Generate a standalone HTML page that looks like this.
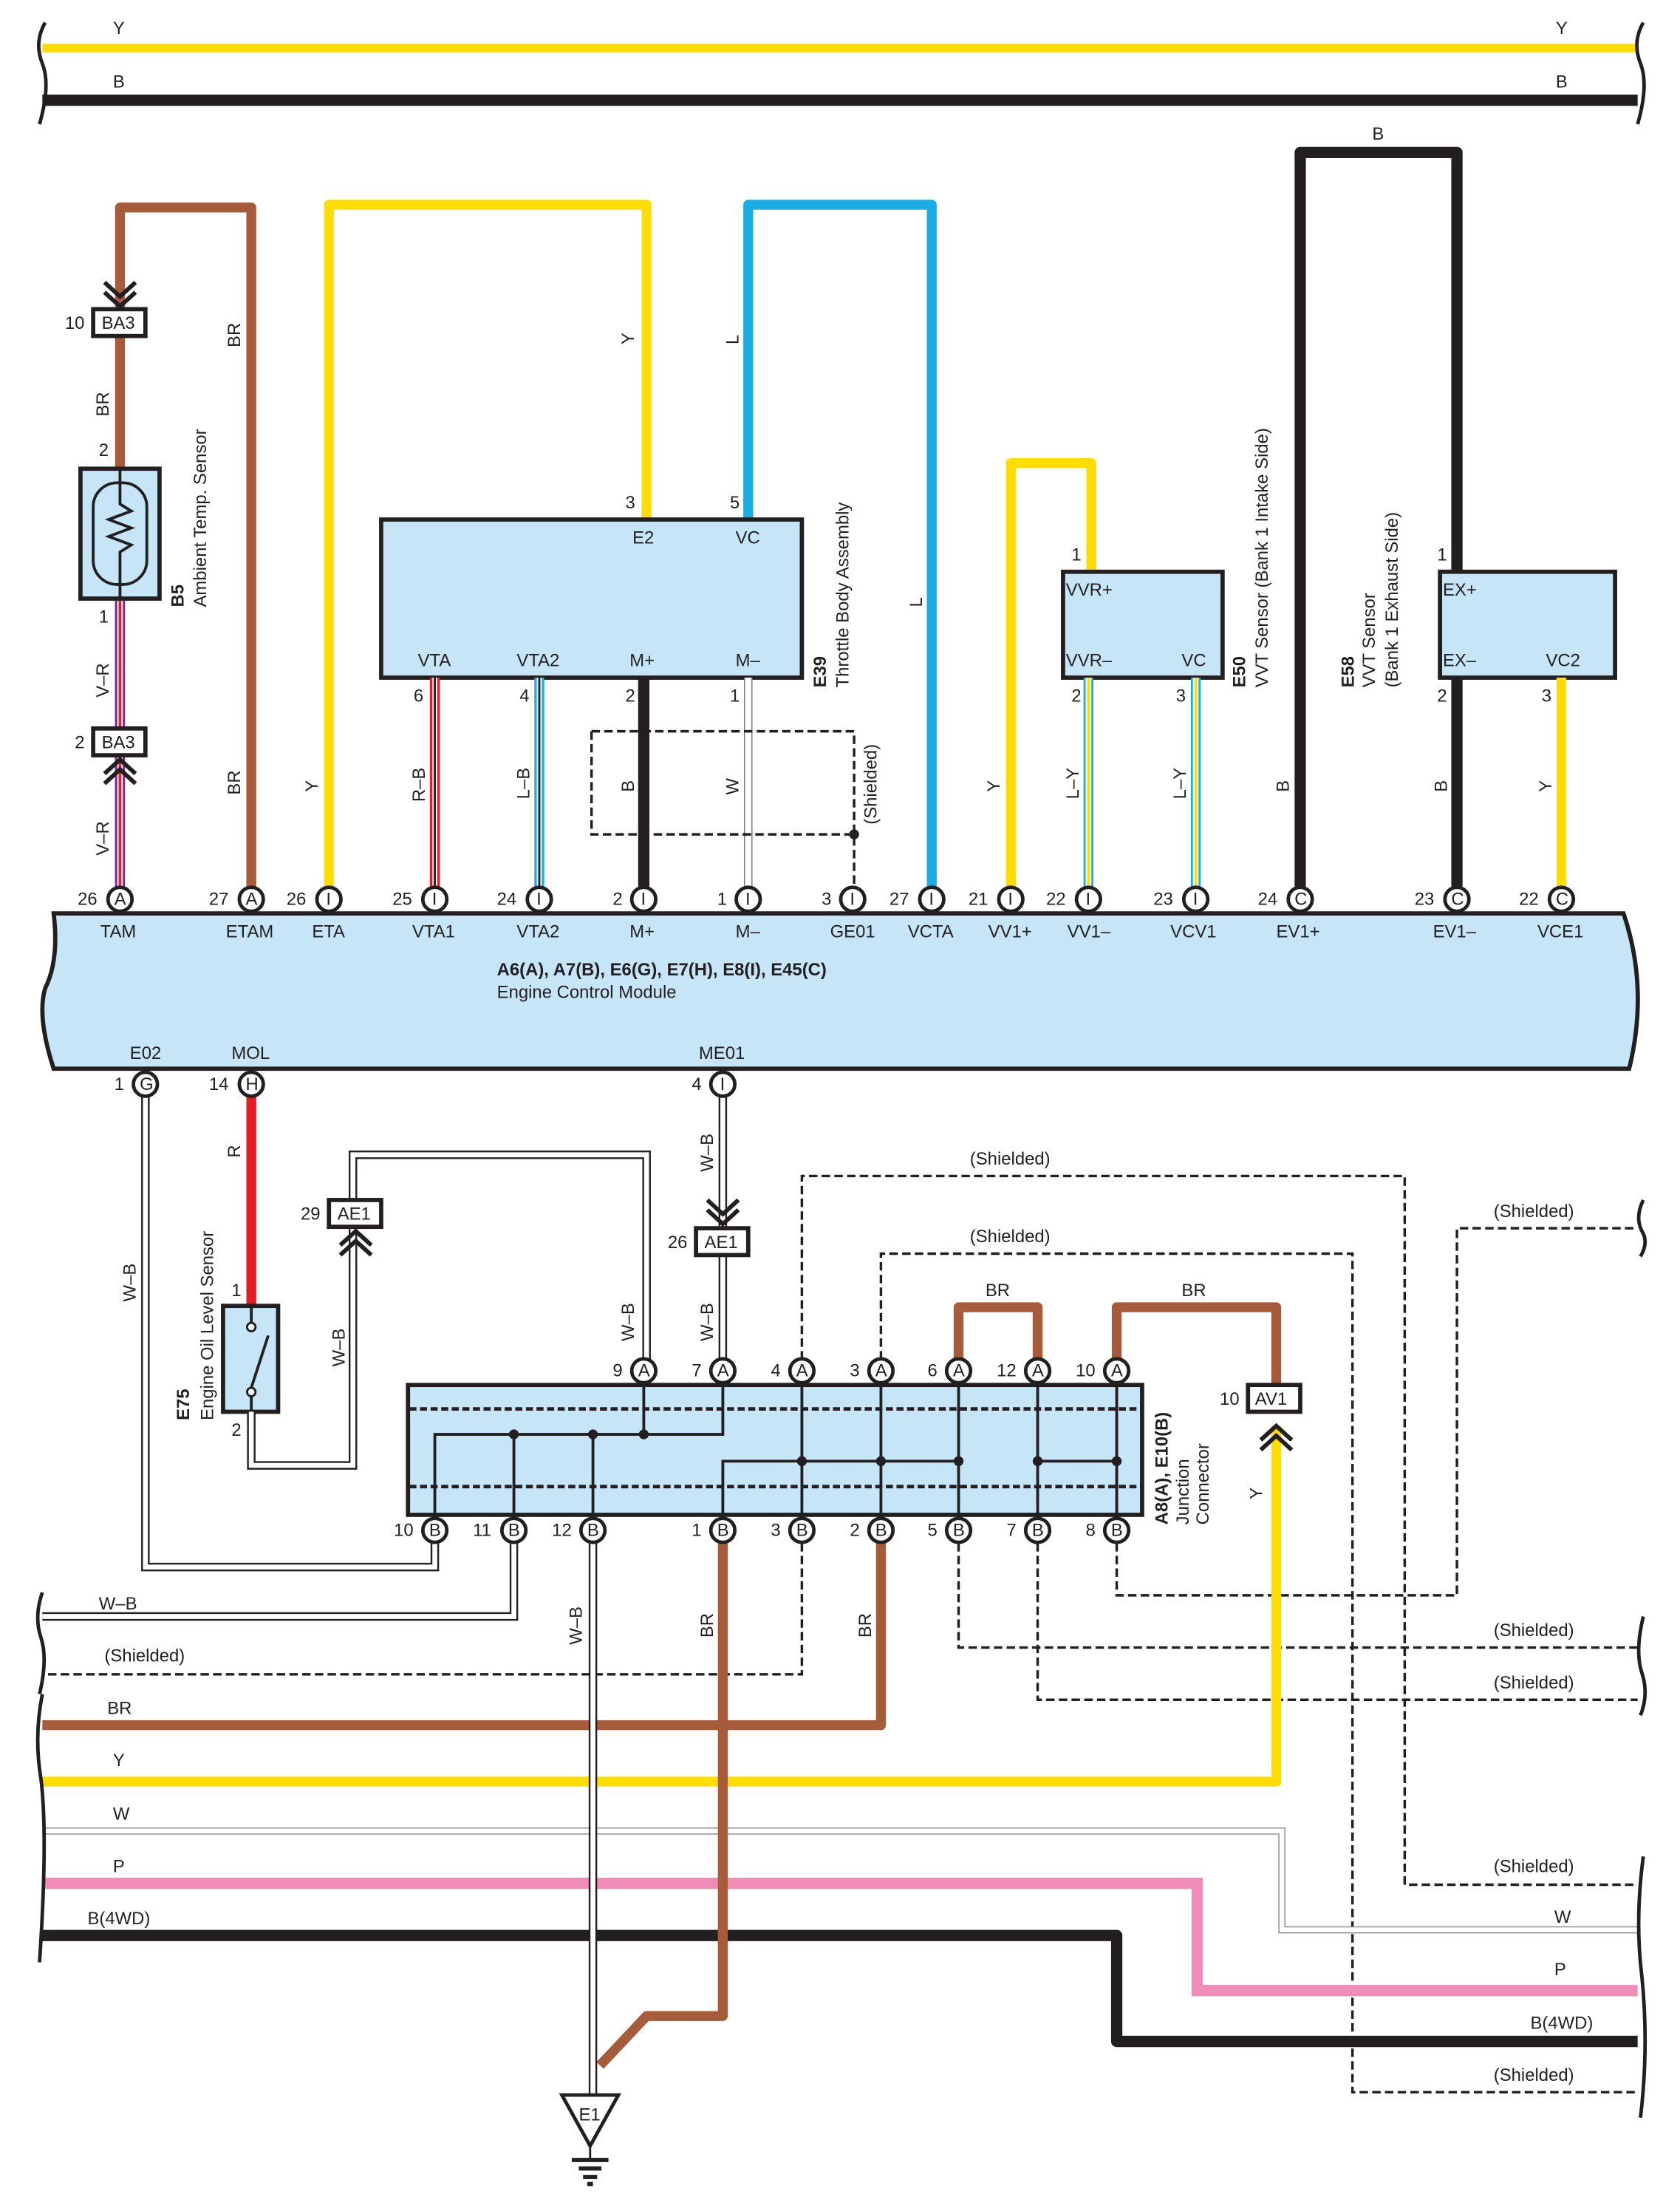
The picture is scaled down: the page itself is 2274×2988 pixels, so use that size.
<!DOCTYPE html>
<html><head><meta charset="utf-8"><style>
html,body{margin:0;padding:0;background:#fff}
svg{display:block}
text{font-family:"Liberation Sans",sans-serif;font-size:12.5px;fill:#231f20}
.b{font-weight:bold}
</style></head><body>
<svg width="2274" height="2988" viewBox="0 0 1190 1564" preserveAspectRatio="none" xmlns="http://www.w3.org/2000/svg">
<defs>
<g id="pin"><circle r="8.5" fill="#fff" stroke="#231f20" stroke-width="2.5"/></g>
</defs>
<!-- top bus -->
<line x1="30" y1="34" x2="1160" y2="34" stroke="#FFDD00" stroke-width="6"/>
<line x1="30" y1="71" x2="1160" y2="71" stroke="#231f20" stroke-width="8"/>
<text x="80" y="24">Y</text><text x="1102" y="24">Y</text>
<text x="80" y="62">B</text><text x="1102" y="62">B</text>
<g fill="none" stroke="#231f20" stroke-width="2.5">
<path d="M32 16 Q24 30 30 45 Q36 60 28 88"/>
<path d="M1164 16 Q1156 30 1162 45 Q1168 60 1160 88"/>
</g>

<!-- ECM box -->
<path d="M38 647 L1150 647 Q1168 700 1154 757 L38 757 Q26 720 32 700 Q42 680 38 647 Z" fill="#C6E6F8" stroke="#231f20" stroke-width="3"/>
<text x="352" y="691" class="b">A6(A), A7(B), E6(G), E7(H), E8(I), E45(C)</text>
<text x="352" y="707">Engine Control Module</text>

<!-- BR TAM/ETAM -->
<path d="M85 628 V147 H178 V628" fill="none" stroke="#A65B3A" stroke-width="7" stroke-linejoin="round"/>
<!-- V-R -->
<line x1="85" y1="424" x2="85" y2="628" stroke="#6B2C91" stroke-width="7"/>
<line x1="85" y1="424" x2="85" y2="628" stroke="#fff" stroke-width="4"/>
<line x1="85" y1="424" x2="85" y2="628" stroke="#E41E26" stroke-width="2"/>
<!-- BA3 connectors -->
<rect x="66" y="219" width="37" height="19" fill="#fff" stroke="#231f20" stroke-width="3"/>
<text x="72" y="233">BA3</text><text x="46" y="233">10</text>
<path d="M74 200 L85 210 L96 200 M74 207 L85 217 L96 207" fill="none" stroke="#231f20" stroke-width="3"/>
<rect x="66" y="516" width="37" height="19" fill="#fff" stroke="#231f20" stroke-width="3"/>
<text x="72" y="530">BA3</text><text x="53" y="530">2</text>
<path d="M74 548 L85 538 L96 548 M74 555 L85 545 L96 555" fill="none" stroke="#231f20" stroke-width="3"/>
<!-- B5 sensor -->
<rect x="57" y="332" width="56" height="92" fill="#C6E6F8" stroke="#231f20" stroke-width="3"/>
<rect x="66" y="342" width="38" height="72" rx="17" fill="none" stroke="#231f20" stroke-width="2"/>
<path d="M85 332 V357 L93 362 L77 368 L93 374 L77 380 L93 386 L85 391 V424" fill="none" stroke="#231f20" stroke-width="2"/>
<text x="70" y="323">2</text><text x="70" y="441">1</text>
<text transform="translate(130 430) rotate(-90)" class="b">B5</text>
<text transform="translate(146 430) rotate(-90)">Ambient Temp.  Sensor</text>
<text transform="translate(77 295) rotate(-90)">BR</text>
<text transform="translate(77 494) rotate(-90)">V–R</text>
<text transform="translate(77 606) rotate(-90)">V–R</text>
<text transform="translate(170 246) rotate(-90)">BR</text>
<text transform="translate(170 563) rotate(-90)">BR</text>

<!-- Y ETA -->
<path d="M233 628 V145 H458 V368" fill="none" stroke="#FFDD00" stroke-width="7" stroke-linejoin="round"/>
<text transform="translate(225 561) rotate(-90)">Y</text>
<text transform="translate(449 244) rotate(-90)">Y</text>
<!-- L VCTA -->
<path d="M660 628 V145 H530 V368" fill="none" stroke="#1AADE4" stroke-width="7" stroke-linejoin="round"/>
<text transform="translate(523 244) rotate(-90)">L</text>
<text transform="translate(653 430) rotate(-90)">L</text>

<!-- throttle box -->
<rect x="270" y="368" width="298" height="112" fill="#C6E6F8" stroke="#231f20" stroke-width="3"/>
<text x="448" y="385">E2</text><text x="521" y="385">VC</text>
<text x="296" y="472">VTA</text><text x="366" y="472">VTA2</text><text x="446" y="472">M+</text><text x="521" y="472">M–</text>
<text x="443" y="360">3</text><text x="517" y="360">5</text>
<text x="293" y="497">6</text><text x="368" y="497">4</text><text x="443" y="497">2</text><text x="517" y="497">1</text>
<text transform="translate(585 487) rotate(-90)" class="b">E39</text>
<text transform="translate(601 487) rotate(-90)">Throttle Body Assembly</text>
<!-- VTA1 R-B -->
<line x1="308" y1="480" x2="308" y2="628" stroke="#E41E26" stroke-width="7"/>
<line x1="308" y1="480" x2="308" y2="628" stroke="#fff" stroke-width="3.5"/>
<line x1="308" y1="480" x2="308" y2="628" stroke="#231f20" stroke-width="1.5"/>
<!-- VTA2 L-B -->
<line x1="382" y1="480" x2="382" y2="628" stroke="#1AADE4" stroke-width="7"/>
<line x1="382" y1="480" x2="382" y2="628" stroke="#fff" stroke-width="3.5"/>
<line x1="382" y1="480" x2="382" y2="628" stroke="#231f20" stroke-width="1.5"/>
<!-- M+ B -->
<line x1="456" y1="480" x2="456" y2="628" stroke="#231f20" stroke-width="8"/>
<!-- M- W -->
<line x1="530" y1="480" x2="530" y2="628" stroke="#777" stroke-width="6"/>
<line x1="530" y1="480" x2="530" y2="628" stroke="#fff" stroke-width="4.5"/>
<!-- shield -->
<path d="M419 518 H605 V628 M419 518 V591 H605" fill="none" stroke="#231f20" stroke-width="1.8" stroke-dasharray="6 3"/>
<circle cx="605" cy="591" r="3.5" fill="#231f20"/>
<text transform="translate(621 584) rotate(-90)">(Shielded)</text>
<text transform="translate(301 568) rotate(-90)">R–B</text>
<text transform="translate(375 566) rotate(-90)">L–B</text>
<text transform="translate(449 561) rotate(-90)">B</text>
<text transform="translate(523 563) rotate(-90)">W</text>

<!-- VVT intake -->
<path d="M716 628 V328 H773 V405" fill="none" stroke="#FFDD00" stroke-width="7" stroke-linejoin="round"/>
<rect x="753" y="405" width="113" height="75" fill="#C6E6F8" stroke="#231f20" stroke-width="3"/>
<text x="755" y="422">VVR+</text><text x="755" y="472">VVR–</text><text x="837" y="472">VC</text>
<text x="759" y="397">1</text><text x="759" y="497">2</text><text x="833" y="497">3</text>
<g>
<line x1="771" y1="480" x2="771" y2="628" stroke="#1AADE4" stroke-width="7"/>
<line x1="771" y1="480" x2="771" y2="628" stroke="#fff" stroke-width="4"/>
<line x1="771" y1="480" x2="771" y2="628" stroke="#FFDD00" stroke-width="2"/>
<line x1="847" y1="480" x2="847" y2="628" stroke="#1AADE4" stroke-width="7"/>
<line x1="847" y1="480" x2="847" y2="628" stroke="#fff" stroke-width="4"/>
<line x1="847" y1="480" x2="847" y2="628" stroke="#FFDD00" stroke-width="2"/>
</g>
<text transform="translate(708 561) rotate(-90)">Y</text>
<text transform="translate(764 566) rotate(-90)">L–Y</text>
<text transform="translate(840 566) rotate(-90)">L–Y</text>
<text transform="translate(882 487) rotate(-90)" class="b">E50</text>
<text transform="translate(898 487) rotate(-90)">VVT Sensor (Bank 1 Intake Side)</text>
<!-- B EV1 -->
<path d="M921 628 V108 H1032 V405 M1032 480 V628" fill="none" stroke="#231f20" stroke-width="8" stroke-linejoin="round"/>
<text x="972" y="99">B</text>
<text transform="translate(913 561) rotate(-90)">B</text>
<text transform="translate(1025 561) rotate(-90)">B</text>
<rect x="1020" y="405" width="124" height="75" fill="#C6E6F8" stroke="#231f20" stroke-width="3"/>
<text x="1022" y="422">EX+</text><text x="1022" y="472">EX–</text><text x="1095" y="472">VC2</text>
<text x="1018" y="397">1</text><text x="1018" y="497">2</text><text x="1092" y="497">3</text>
<line x1="1106" y1="480" x2="1106" y2="628" stroke="#FFDD00" stroke-width="7"/>
<text transform="translate(1099 561) rotate(-90)">Y</text>
<text transform="translate(959 487) rotate(-90)" class="b">E58</text>
<text transform="translate(974 487) rotate(-90)">VVT Sensor</text>
<text transform="translate(990 487) rotate(-90)">(Bank 1 Exhaust Side)</text>

<!-- ECM top pins -->
<g>
<use href="#pin" x="85" y="637"/><text x="81" y="641">A</text><text x="55" y="641">26</text>
<use href="#pin" x="178" y="637"/><text x="174" y="641">A</text><text x="148" y="641">27</text>
<use href="#pin" x="233" y="637"/><text x="231" y="641">I</text><text x="203" y="641">26</text>
<use href="#pin" x="308" y="637"/><text x="306" y="641">I</text><text x="278" y="641">25</text>
<use href="#pin" x="382" y="637"/><text x="380" y="641">I</text><text x="352" y="641">24</text>
<use href="#pin" x="456" y="637"/><text x="454" y="641">I</text><text x="434" y="641">2</text>
<use href="#pin" x="530" y="637"/><text x="528" y="641">I</text><text x="508" y="641">1</text>
<use href="#pin" x="604" y="637"/><text x="602" y="641">I</text><text x="582" y="641">3</text>
<use href="#pin" x="660" y="637"/><text x="658" y="641">I</text><text x="630" y="641">27</text>
<use href="#pin" x="716" y="637"/><text x="714" y="641">I</text><text x="686" y="641">21</text>
<use href="#pin" x="771" y="637"/><text x="769" y="641">I</text><text x="741" y="641">22</text>
<use href="#pin" x="847" y="637"/><text x="845" y="641">I</text><text x="817" y="641">23</text>
<use href="#pin" x="921" y="637"/><text x="917" y="641">C</text><text x="891" y="641">24</text>
<use href="#pin" x="1032" y="637"/><text x="1028" y="641">C</text><text x="1002" y="641">23</text>
<use href="#pin" x="1106" y="637"/><text x="1102" y="641">C</text><text x="1076" y="641">22</text>
</g>
<g>
<text x="71" y="664">TAM</text><text x="160" y="664">ETAM</text><text x="221" y="664">ETA</text>
<text x="292" y="664">VTA1</text><text x="366" y="664">VTA2</text><text x="446" y="664">M+</text>
<text x="521" y="664">M–</text><text x="588" y="664">GE01</text><text x="643" y="664">VCTA</text>
<text x="700" y="664">VV1+</text><text x="756" y="664">VV1–</text><text x="829" y="664">VCV1</text>
<text x="904" y="664">EV1+</text><text x="1015" y="664">EV1–</text><text x="1089" y="664">VCE1</text>
<text x="92" y="750">E02</text><text x="164" y="750">MOL</text><text x="495" y="750">ME01</text>
</g>

<!-- lower wires -->
<!-- E02 W-B -->
<path d="M103 777 V1110 H308 V1092" fill="none" stroke="#231f20" stroke-width="6"/>
<path d="M103 777 V1110 H308 V1092" fill="none" stroke="#fff" stroke-width="3.5"/>
<text transform="translate(96 922) rotate(-90)">W–B</text>
<!-- MOL R -->
<line x1="178" y1="777" x2="178" y2="925" stroke="#E41E26" stroke-width="7"/>
<text transform="translate(170 820) rotate(-90)">R</text>
<rect x="158" y="925" width="39" height="75" fill="#C6E6F8" stroke="#231f20" stroke-width="3"/>
<circle cx="178" cy="940" r="3" fill="#fff" stroke="#231f20" stroke-width="1.5"/>
<circle cx="178" cy="986" r="3" fill="#fff" stroke="#231f20" stroke-width="1.5"/>
<path d="M178 925 V937 M178 989 V1000 M178 983 L190 946" fill="none" stroke="#231f20" stroke-width="2"/>
<text x="164" y="918">1</text><text x="164" y="1017">2</text>
<text transform="translate(134 1006) rotate(-90)" class="b">E75</text>
<text transform="translate(151 1006) rotate(-90)">Engine Oil Level Sensor</text>
<!-- MOL sensor pin2 W-B to AE1 29 to 9A -->
<path d="M178 1000 V1038 H250 V870 M250 850 V818 H458 V963" fill="none" stroke="#231f20" stroke-width="6"/>
<path d="M178 1000 V1038 H250 V870 M250 850 V818 H458 V963" fill="none" stroke="#fff" stroke-width="3.5"/>
<rect x="233" y="850" width="37" height="19" fill="#fff" stroke="#231f20" stroke-width="3"/>
<text x="239" y="864">AE1</text><text x="213" y="864">29</text>
<path d="M241 882 L252 872 L263 882 M241 889 L252 879 L263 889" fill="none" stroke="#231f20" stroke-width="3"/>
<text transform="translate(244 968) rotate(-90)">W–B</text>
<text transform="translate(449 950) rotate(-90)">W–B</text>
<!-- ME01 -->
<path d="M512 777 V963" fill="none" stroke="#231f20" stroke-width="6"/>
<path d="M512 777 V963" fill="none" stroke="#fff" stroke-width="3.5"/>
<path d="M501 850 L512 860 L523 850 M501 857 L512 867 L523 857" fill="none" stroke="#231f20" stroke-width="3"/>
<rect x="493" y="870" width="37" height="19" fill="#fff" stroke="#231f20" stroke-width="3"/>
<text x="499" y="884">AE1</text><text x="473" y="884">26</text>
<text transform="translate(505 830) rotate(-90)">W–B</text>
<text transform="translate(505 950) rotate(-90)">W–B</text>

<!-- shield dashed lines -->
<g fill="none" stroke="#231f20" stroke-width="1.8" stroke-dasharray="6 3">
<path d="M568 963 V833 H995 V1335 H1160"/>
<path d="M624 963 V888 H958 V1482 H1160"/>
<path d="M568 1093 V1186 H30"/>
<path d="M679 1093 V1167 H1160"/>
<path d="M735 1093 V1204 H1160"/>
<path d="M791 1093 V1130 H1032 V870 H1160"/>
</g>
<text x="687" y="825">(Shielded)</text>
<text x="687" y="880">(Shielded)</text>
<text x="1058" y="862">(Shielded)</text>
<text x="74" y="1177">(Shielded)</text>
<text x="1058" y="1159">(Shielded)</text>
<text x="1058" y="1196">(Shielded)</text>
<text x="1058" y="1326">(Shielded)</text>
<text x="1058" y="1474">(Shielded)</text>

<!-- BR loops -->
<path d="M679 963 V926 H735 V963" fill="none" stroke="#A65B3A" stroke-width="7" stroke-linejoin="round"/>
<path d="M791 963 V926 H904 V981" fill="none" stroke="#A65B3A" stroke-width="7" stroke-linejoin="round"/>
<text x="698" y="918">BR</text><text x="837" y="918">BR</text>
<rect x="884" y="981" width="37" height="19" fill="#fff" stroke="#231f20" stroke-width="3"/>
<text x="889" y="995">AV1</text><text x="864" y="995">10</text>
<!-- Y from AV1 -->
<path d="M904 1010 V1262 H30" fill="none" stroke="#FFDD00" stroke-width="7" stroke-linejoin="round"/>
<path d="M893 1020 L904 1010 L915 1020 M893 1027 L904 1017 L915 1027" fill="none" stroke="#231f20" stroke-width="3"/>
<text transform="translate(894 1062) rotate(-90)">Y</text>
<text x="80" y="1251">Y</text>

<!-- W-B from 11B -->
<path d="M364 1092 V1145 H30" fill="none" stroke="#231f20" stroke-width="6"/>
<path d="M364 1092 V1145 H30" fill="none" stroke="#fff" stroke-width="3.5"/>
<text x="70" y="1140">W–B</text>
<!-- W thin -->
<path d="M30 1297 H908 V1367 H1160" fill="none" stroke="#888" stroke-width="5"/>
<path d="M30 1297 H908 V1367 H1160" fill="none" stroke="#fff" stroke-width="3.5"/>
<text x="80" y="1289">W</text><text x="1101" y="1362">W</text>
<!-- P -->
<path d="M30 1334 H848 V1410 H1160" fill="none" stroke="#F08CB8" stroke-width="8"/>
<text x="80" y="1326">P</text><text x="1101" y="1399">P</text>
<!-- B(4WD) -->
<path d="M30 1371 H791 V1446 H1160" fill="none" stroke="#231f20" stroke-width="8" stroke-linejoin="round"/>
<text x="62" y="1363">B(4WD)</text><text x="1084" y="1437">B(4WD)</text>
<!-- BR from 2B -->
<path d="M624 1093 V1222 H30" fill="none" stroke="#A65B3A" stroke-width="7" stroke-linejoin="round"/>
<text x="76" y="1214">BR</text>
<text transform="translate(617 1160) rotate(-90)">BR</text>
<!-- BR from 1B to ground -->
<path d="M512 1093 V1428 H458 L425 1463" fill="none" stroke="#A65B3A" stroke-width="7" stroke-linejoin="round"/>
<text transform="translate(505 1160) rotate(-90)">BR</text>
<!-- W-B 12B to ground -->
<path d="M420 1093 V1483" fill="none" stroke="#231f20" stroke-width="6"/>
<path d="M420 1093 V1483" fill="none" stroke="#fff" stroke-width="3.5"/>
<text transform="translate(412 1165) rotate(-90)">W–B</text>
<!-- ground -->
<path d="M398 1484 H438 L418 1520 Z" fill="#fff" stroke="#231f20" stroke-width="2.5"/>
<text x="410" y="1502">E1</text>
<line x1="418" y1="1520" x2="418" y2="1529" stroke="#231f20" stroke-width="1.5"/>
<line x1="405" y1="1530" x2="431" y2="1530" stroke="#231f20" stroke-width="3"/>
<line x1="410" y1="1536" x2="426" y2="1536" stroke="#231f20" stroke-width="3"/>
<line x1="413" y1="1542" x2="423" y2="1542" stroke="#231f20" stroke-width="3"/>
<line x1="416" y1="1547" x2="420" y2="1547" stroke="#231f20" stroke-width="3"/>

<!-- junction box -->
<rect x="289" y="981" width="520" height="92" fill="#C6E6F8" stroke="#231f20" stroke-width="3"/>
<g stroke="#231f20" stroke-width="2.5" stroke-dasharray="5 2.5">
<line x1="290" y1="998" x2="808" y2="998"/><line x1="290" y1="1053" x2="808" y2="1053"/>
</g>
<g fill="none" stroke="#231f20" stroke-width="2">
<path d="M308 1073 V1016 H512 V981"/>
<path d="M364 1016 V1073 M420 1016 V1073 M456 981 V1016"/>
<path d="M512 1073 V1035 H679"/>
<path d="M568 981 V1073 M624 981 V1073 M679 981 V1073 M735 981 V1073 M791 981 V1073 M735 1035 H791"/>
</g>
<g fill="#231f20">
<circle cx="364" cy="1016" r="3.5"/><circle cx="420" cy="1016" r="3.5"/><circle cx="456" cy="1016" r="3.5"/>
<circle cx="568" cy="1035" r="3.5"/><circle cx="624" cy="1035" r="3.5"/><circle cx="679" cy="1035" r="3.5"/>
<circle cx="735" cy="1035" r="3.5"/><circle cx="791" cy="1035" r="3.5"/>
</g>
<text transform="translate(827 1080) rotate(-90)" class="b">A8(A), E10(B)</text>
<text transform="translate(842 1080) rotate(-90)">Junction</text>
<text transform="translate(856 1080) rotate(-90)">Connector</text>
<!-- JB pins -->
<g>
<use href="#pin" x="456" y="971"/><text x="452" y="975">A</text><text x="434" y="975">9</text>
<use href="#pin" x="512" y="971"/><text x="508" y="975">A</text><text x="490" y="975">7</text>
<use href="#pin" x="568" y="971"/><text x="564" y="975">A</text><text x="546" y="975">4</text>
<use href="#pin" x="624" y="971"/><text x="620" y="975">A</text><text x="602" y="975">3</text>
<use href="#pin" x="679" y="971"/><text x="675" y="975">A</text><text x="657" y="975">6</text>
<use href="#pin" x="735" y="971"/><text x="731" y="975">A</text><text x="706" y="975">12</text>
<use href="#pin" x="791" y="971"/><text x="787" y="975">A</text><text x="762" y="975">10</text>
<use href="#pin" x="308" y="1084"/><text x="304" y="1088">B</text><text x="279" y="1088">10</text>
<use href="#pin" x="364" y="1084"/><text x="360" y="1088">B</text><text x="335" y="1088">11</text>
<use href="#pin" x="420" y="1084"/><text x="416" y="1088">B</text><text x="391" y="1088">12</text>
<use href="#pin" x="512" y="1084"/><text x="508" y="1088">B</text><text x="490" y="1088">1</text>
<use href="#pin" x="568" y="1084"/><text x="564" y="1088">B</text><text x="546" y="1088">3</text>
<use href="#pin" x="624" y="1084"/><text x="620" y="1088">B</text><text x="602" y="1088">2</text>
<use href="#pin" x="679" y="1084"/><text x="675" y="1088">B</text><text x="657" y="1088">5</text>
<use href="#pin" x="735" y="1084"/><text x="731" y="1088">B</text><text x="713" y="1088">7</text>
<use href="#pin" x="791" y="1084"/><text x="787" y="1088">B</text><text x="769" y="1088">8</text>
</g>
<!-- ECM bottom pins -->
<use href="#pin" x="103" y="768"/><text x="99" y="772">G</text><text x="81" y="772">1</text>
<use href="#pin" x="178" y="768"/><text x="174" y="772">H</text><text x="148" y="772">14</text>
<use href="#pin" x="512" y="768"/><text x="510" y="772">I</text><text x="490" y="772">4</text>

<!-- braces -->
<g fill="none" stroke="#231f20" stroke-width="2.5">
<path d="M30 1128 Q24 1145 29 1160 Q34 1175 28 1200"/>
<path d="M30 1200 Q24 1230 29 1260 Q34 1300 28 1390"/>
<path d="M1164 850 Q1158 862 1163 872 Q1168 880 1162 890"/>
<path d="M1164 1145 Q1158 1170 1163 1185 Q1168 1200 1162 1215"/>
<path d="M1164 1315 Q1158 1360 1163 1400 Q1168 1450 1162 1500"/>
</g>
</svg>
</body></html>
